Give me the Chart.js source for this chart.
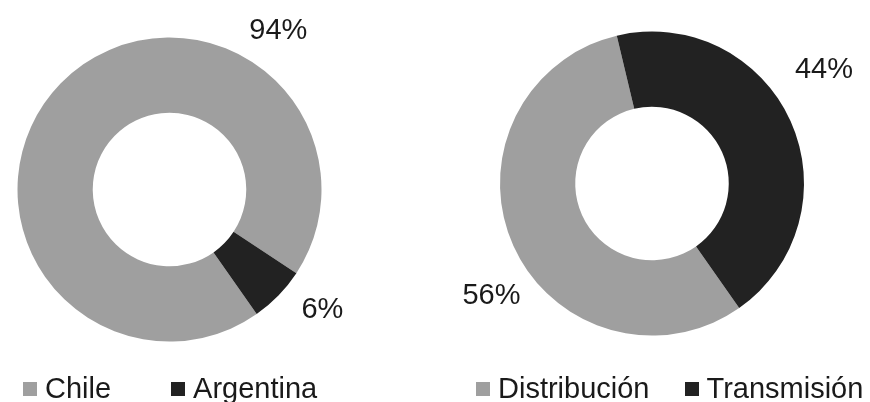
<!DOCTYPE html>
<html>
<head>
<meta charset="utf-8">
<script src="https://cdn.jsdelivr.net/npm/chart.js@4/dist/chart.umd.min.js"></script>
<style>
  html, body { margin: 0; padding: 0; background: #ffffff; }
  #wrap { position: relative; width: 870px; height: 402px; overflow: hidden; background: #fff; }
  canvas { position: absolute; top: 0; }
  #c1 { left: 0; }
  #c2 { left: 435px; }
  .legend { position: absolute; top: 374px; height: 29px; display: flex; align-items: center;
            font-family: "Liberation Sans", Arial, sans-serif; font-size: 29px; color: #1a1a1a; }
  .item { display: flex; align-items: center; white-space: nowrap; line-height: 29px; }
  .sw { display: inline-block; width: 14px; height: 14px; margin-right: 8px; }
</style>
</head>
<body>
<div id="wrap">
  <canvas id="c1" width="435" height="402"></canvas>
  <canvas id="c2" width="435" height="402"></canvas>
  <div class="legend" id="lg1" style="left:23px; gap:60px;"></div>
  <div class="legend" id="lg2" style="left:476px; gap:35px;"></div>
</div>
<script>
// ---- data ----
const countryLabels = ["Chile", "Argentina"];
const countryValues = [94, 6];
const segmentLabels = ["Distribución", "Transmisión"];
const segmentValues = [56, 44];
const sliceColors = ["#9f9f9f", "#222222"];

// ---- label plugin: percentage labels placed around the ring ----
const pctLabels = {
  id: "pctLabels",
  afterDatasetsDraw(chart, args, opts) {
    const ctx = chart.ctx;
    const meta = chart.getDatasetMeta(0);
    const vals = chart.data.datasets[0].data;
    ctx.save();
    ctx.font = "29px 'Liberation Sans', Arial, sans-serif";
    ctx.fillStyle = "#1a1a1a";
    ctx.textAlign = "center";
    ctx.textBaseline = "alphabetic";
    meta.data.forEach((arc, i) => {
      const a = (opts.angles[i] - 90) * Math.PI / 180;
      const r = arc.outerRadius * opts.dist[i];
      const x = arc.x + Math.cos(a) * r;
      const y = arc.y + Math.sin(a) * r;
      ctx.fillText(vals[i] + "%", x, y + 10.4);
    });
    ctx.restore();
  }
};

function makeChart(id, labels, values, pad, labelOpts) {
  return new Chart(document.getElementById(id), {
    type: "doughnut",
    data: {
      labels: labels,
      datasets: [{ data: values, backgroundColor: sliceColors, borderWidth: 0 }]
    },
    options: {
      responsive: false,
      animation: false,
      devicePixelRatio: 1,
      rotation: 145,
      cutout: "50.5%",
      layout: { padding: pad },
      plugins: {
        legend: { display: false },
        tooltip: { enabled: false },
        pctLabels: labelOpts
      }
    },
    plugins: [pctLabels]
  });
}

makeChart("c1", countryLabels, countryValues,
  { left: 17.5, right: 113.5, top: 37.5, bottom: 60.5 },
  { angles: [34, 127.6], dist: [1.28, 1.27] });
makeChart("c2", segmentLabels, segmentValues,
  { left: 65, right: 66, top: 31.5, bottom: 66.5 },
  { angles: [235.6, 56], dist: [1.28, 1.365] });

function buildLegend(id, labels) {
  const el = document.getElementById(id);
  labels.forEach((t, i) => {
    const item = document.createElement("span");
    item.className = "item";
    const sw = document.createElement("span");
    sw.className = "sw";
    sw.style.background = sliceColors[i];
    const tx = document.createElement("span");
    tx.textContent = t;
    item.appendChild(sw);
    item.appendChild(tx);
    el.appendChild(item);
  });
}
buildLegend("lg1", countryLabels);
buildLegend("lg2", segmentLabels);
</script>
</body>
</html>
